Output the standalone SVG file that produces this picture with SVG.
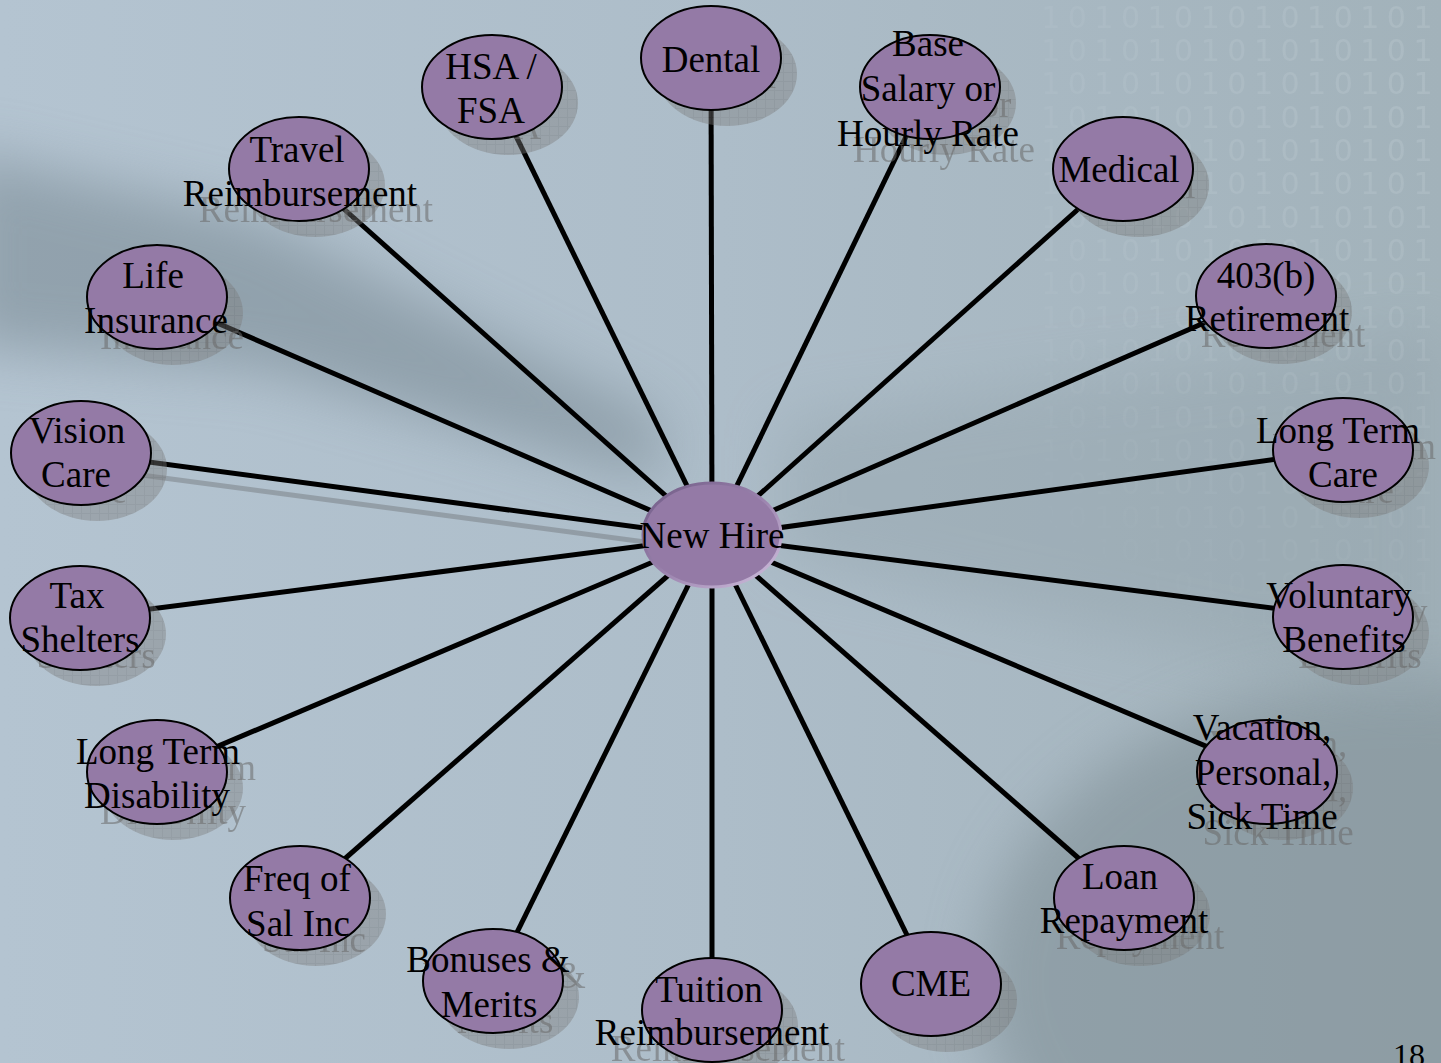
<svg xmlns="http://www.w3.org/2000/svg" xmlns:xlink="http://www.w3.org/1999/xlink" width="1441" height="1063" viewBox="0 0 1441 1063">
<defs>
<style>
.lbl{font-family:"Liberation Serif","Times New Roman",serif;font-size:37px;text-anchor:middle}
.lab{fill:#000}
.stx{fill:#6a6a6a;opacity:.55}
.shd{fill:url(#grid);opacity:.42}
.node{fill:#947aa6;stroke:#000;stroke-width:2}
.edge{stroke:#000;stroke-width:5;fill:none}
.bin{font-family:"DejaVu Sans",sans-serif;font-size:30px;letter-spacing:7.5px;fill:#e8f0f4;text-anchor:end}
</style>
<pattern id="grid" width="9" height="9" patternUnits="userSpaceOnUse">
<rect width="9" height="9" fill="#7c7c7c"/>
<path d="M0 0.5H9M0.5 0V9" stroke="#6c6c6c" stroke-width="1"/>
</pattern>
<linearGradient id="bg" x1="0" y1="0" x2="1" y2="0">
<stop offset="0" stop-color="#b4c4d1"/>
<stop offset="0.5" stop-color="#adbdc9"/>
<stop offset="1" stop-color="#a2b2ba"/>
</linearGradient>
<linearGradient id="rim" x1="0" y1="0" x2="1" y2="1">
<stop offset="0" stop-color="#6f5a84"/>
<stop offset="0.5" stop-color="#9a82ad"/>
<stop offset="1" stop-color="#d2c2e0"/>
</linearGradient>
<filter id="blur" x="-50%" y="-50%" width="200%" height="200%"><feGaussianBlur stdDeviation="28"/></filter>
<radialGradient id="binfade" cx="1441" cy="100" r="600" gradientUnits="userSpaceOnUse">
<stop offset="0" stop-color="#fff" stop-opacity="1"/>
<stop offset="0.5" stop-color="#fff" stop-opacity="0.6"/>
<stop offset="1" stop-color="#fff" stop-opacity="0"/>
</radialGradient>
<mask id="binmask"><rect x="0" y="0" width="1441" height="1063" fill="url(#binfade)"/></mask>
</defs>

<g id="background">
<rect x="0" y="0" width="1441" height="1063" fill="url(#bg)"/>
<polygon points="-40,150 260,220 660,420 660,480 260,370 -40,345" fill="#7b8c96" opacity="0.6" filter="url(#blur)"/>
<ellipse cx="1400" cy="980" rx="420" ry="300" fill="#7d8c93" opacity="0.55" filter="url(#blur)"/>
<polygon points="780,420 1441,330 1441,700 780,560" fill="#8e9ea6" opacity="0.35" filter="url(#blur)"/>
<g mask="url(#binmask)" opacity="0.14">
<text class="bin" x="1440" y="28">101010101010101</text>
<text class="bin" x="1440" y="61">101010101010101</text>
<text class="bin" x="1440" y="94">101010101010101</text>
<text class="bin" x="1440" y="128">101010101010101</text>
<text class="bin" x="1440" y="161">101010101010101</text>
<text class="bin" x="1440" y="194">101010101010101</text>
<text class="bin" x="1440" y="228">101010101010101</text>
<text class="bin" x="1440" y="261">101010101010101</text>
<text class="bin" x="1440" y="294">101010101010101</text>
<text class="bin" x="1440" y="328">101010101010101</text>
<text class="bin" x="1440" y="361">101010101010101</text>
<text class="bin" x="1440" y="394">101010101010101</text>
<text class="bin" x="1440" y="428">101010101010101</text>
<text class="bin" x="1440" y="461">101010101010101</text>
<text class="bin" x="1440" y="494">101010101010101</text>
<text class="bin" x="1440" y="528">101010101010101</text>
<text class="bin" x="1440" y="561">101010101010101</text>
<text class="bin" x="1440" y="594">101010101010101</text>
<text class="bin" x="1440" y="628">101010101010101</text>
<text class="bin" x="1440" y="661">101010101010101</text>
</g>
</g>

<g id="connectors">
<line x1="96" y1="469" x2="728" y2="553" stroke="#70757a" stroke-width="5" opacity="0.45"/>
<line class="edge" x1="712" y1="537" x2="711" y2="58"/>
<line class="edge" x1="712" y1="537" x2="930" y2="87"/>
<line class="edge" x1="712" y1="537" x2="1123" y2="169"/>
<line class="edge" x1="712" y1="537" x2="1266" y2="296"/>
<line class="edge" x1="712" y1="537" x2="1343" y2="450"/>
<line class="edge" x1="712" y1="537" x2="1343" y2="617"/>
<line class="edge" x1="712" y1="537" x2="1267" y2="772"/>
<line class="edge" x1="712" y1="537" x2="1124" y2="898"/>
<line class="edge" x1="712" y1="537" x2="931" y2="984"/>
<line class="edge" x1="712" y1="537" x2="712" y2="1010"/>
<line class="edge" x1="712" y1="537" x2="493" y2="981"/>
<line class="edge" x1="712" y1="537" x2="300" y2="898"/>
<line class="edge" x1="712" y1="537" x2="157" y2="772"/>
<line class="edge" x1="712" y1="537" x2="80" y2="618"/>
<line class="edge" x1="712" y1="537" x2="81" y2="453"/>
<line class="edge" x1="712" y1="537" x2="157" y2="297"/>
<line class="edge" x1="712" y1="537" x2="299" y2="169"/>
<line class="edge" x1="712" y1="537" x2="492" y2="87"/>
</g>

<g id="n-dental">
<ellipse class="shd" cx="727" cy="74" rx="70" ry="52"/>
<use xlink:href="#t-dental" href="#t-dental" class="stx" transform="translate(16,16)"/>
<ellipse class="node" cx="711" cy="58" rx="70" ry="52"/>
<g class="lab"><text id="t-dental" class="lbl" x="711" y="72">Dental</text></g>
</g>

<g id="n-base">
<ellipse class="shd" cx="946" cy="103" rx="70" ry="52"/>
<use xlink:href="#t-base" href="#t-base" class="stx" transform="translate(16,16)"/>
<ellipse class="node" cx="930" cy="87" rx="70" ry="52"/>
<g class="lab"><text id="t-base" class="lbl" x="928" y="56">Base<tspan x="928" y="101">Salary or</tspan><tspan x="928" y="146">Hourly Rate</tspan></text></g>
</g>

<g id="n-medical">
<ellipse class="shd" cx="1139" cy="185" rx="70" ry="52"/>
<use xlink:href="#t-medical" href="#t-medical" class="stx" transform="translate(16,16)"/>
<ellipse class="node" cx="1123" cy="169" rx="70" ry="52"/>
<g class="lab"><text id="t-medical" class="lbl" x="1119" y="182">Medical</text></g>
</g>

<g id="n-retirement">
<ellipse class="shd" cx="1282" cy="312" rx="70" ry="52"/>
<use xlink:href="#t-retirement" href="#t-retirement" class="stx" transform="translate(16,16)"/>
<ellipse class="node" cx="1266" cy="296" rx="70" ry="52"/>
<g class="lab"><text id="t-retirement" class="lbl" x="1266" y="288">403(b)<tspan x="1267" y="331">Retirement</tspan></text></g>
</g>

<g id="n-ltc">
<ellipse class="shd" cx="1359" cy="466" rx="70" ry="52"/>
<use xlink:href="#t-ltc" href="#t-ltc" class="stx" transform="translate(16,16)"/>
<ellipse class="node" cx="1343" cy="450" rx="70" ry="52"/>
<g class="lab"><text id="t-ltc" class="lbl" x="1338" y="443">Long Term<tspan x="1343" y="487">Care</tspan></text></g>
</g>

<g id="n-voluntary">
<ellipse class="shd" cx="1359" cy="633" rx="70" ry="52"/>
<use xlink:href="#t-voluntary" href="#t-voluntary" class="stx" transform="translate(16,16)"/>
<ellipse class="node" cx="1343" cy="617" rx="70" ry="52"/>
<g class="lab"><text id="t-voluntary" class="lbl" x="1339" y="608">Voluntary<tspan x="1344" y="652">Benefits</tspan></text></g>
</g>

<g id="n-vacation">
<ellipse class="shd" cx="1283" cy="788" rx="70" ry="52"/>
<use xlink:href="#t-vacation" href="#t-vacation" class="stx" transform="translate(16,16)"/>
<ellipse class="node" cx="1267" cy="772" rx="70" ry="52"/>
<g class="lab"><text id="t-vacation" class="lbl" x="1262" y="740">Vacation,<tspan x="1263" y="785">Personal,</tspan><tspan x="1262" y="829">Sick Time</tspan></text></g>
</g>

<g id="n-loan">
<ellipse class="shd" cx="1140" cy="914" rx="70" ry="52"/>
<use xlink:href="#t-loan" href="#t-loan" class="stx" transform="translate(16,16)"/>
<ellipse class="node" cx="1124" cy="898" rx="70" ry="52"/>
<g class="lab"><text id="t-loan" class="lbl" x="1120" y="889">Loan<tspan x="1124" y="933">Repayment</tspan></text></g>
</g>

<g id="n-cme">
<ellipse class="shd" cx="947" cy="1000" rx="70" ry="52"/>
<use xlink:href="#t-cme" href="#t-cme" class="stx" transform="translate(16,16)"/>
<ellipse class="node" cx="931" cy="984" rx="70" ry="52"/>
<g class="lab"><text id="t-cme" class="lbl" x="931" y="996">CME</text></g>
</g>

<g id="n-tuition">
<ellipse class="shd" cx="728" cy="1026" rx="70" ry="52"/>
<use xlink:href="#t-tuition" href="#t-tuition" class="stx" transform="translate(16,16)"/>
<ellipse class="node" cx="712" cy="1010" rx="70" ry="52"/>
<g class="lab"><text id="t-tuition" class="lbl" x="709" y="1002">Tuition<tspan x="712" y="1045">Reimbursement</tspan></text></g>
</g>

<g id="n-bonuses">
<ellipse class="shd" cx="509" cy="997" rx="70" ry="52"/>
<use xlink:href="#t-bonuses" href="#t-bonuses" class="stx" transform="translate(16,16)"/>
<ellipse class="node" cx="493" cy="981" rx="70" ry="52"/>
<g class="lab"><text id="t-bonuses" class="lbl" x="488" y="972">Bonuses &amp;<tspan x="489" y="1017">Merits</tspan></text></g>
</g>

<g id="n-freq">
<ellipse class="shd" cx="316" cy="914" rx="70" ry="52"/>
<use xlink:href="#t-freq" href="#t-freq" class="stx" transform="translate(16,16)"/>
<ellipse class="node" cx="300" cy="898" rx="70" ry="52"/>
<g class="lab"><text id="t-freq" class="lbl" x="297" y="891">Freq of<tspan x="298" y="936">Sal Inc</tspan></text></g>
</g>

<g id="n-ltd">
<ellipse class="shd" cx="173" cy="788" rx="70" ry="52"/>
<use xlink:href="#t-ltd" href="#t-ltd" class="stx" transform="translate(16,16)"/>
<ellipse class="node" cx="157" cy="772" rx="70" ry="52"/>
<g class="lab"><text id="t-ltd" class="lbl" x="158" y="764">Long Term<tspan x="157" y="808">Disability</tspan></text></g>
</g>

<g id="n-tax">
<ellipse class="shd" cx="96" cy="634" rx="70" ry="52"/>
<use xlink:href="#t-tax" href="#t-tax" class="stx" transform="translate(16,16)"/>
<ellipse class="node" cx="80" cy="618" rx="70" ry="52"/>
<g class="lab"><text id="t-tax" class="lbl" x="77" y="608">Tax<tspan x="80" y="652">Shelters</tspan></text></g>
</g>

<g id="n-vision">
<ellipse class="shd" cx="97" cy="469" rx="70" ry="52"/>
<use xlink:href="#t-vision" href="#t-vision" class="stx" transform="translate(16,16)"/>
<ellipse class="node" cx="81" cy="453" rx="70" ry="52"/>
<g class="lab"><text id="t-vision" class="lbl" x="77" y="443">Vision<tspan x="76" y="487">Care</tspan></text></g>
</g>

<g id="n-life">
<ellipse class="shd" cx="173" cy="313" rx="70" ry="52"/>
<use xlink:href="#t-life" href="#t-life" class="stx" transform="translate(16,16)"/>
<ellipse class="node" cx="157" cy="297" rx="70" ry="52"/>
<g class="lab"><text id="t-life" class="lbl" x="153" y="288">Life<tspan x="156" y="333">Insurance</tspan></text></g>
</g>

<g id="n-travel">
<ellipse class="shd" cx="315" cy="185" rx="70" ry="52"/>
<use xlink:href="#t-travel" href="#t-travel" class="stx" transform="translate(16,16)"/>
<ellipse class="node" cx="299" cy="169" rx="70" ry="52"/>
<g class="lab"><text id="t-travel" class="lbl" x="297" y="162">Travel<tspan x="300" y="206">Reimbursement</tspan></text></g>
</g>

<g id="n-hsa">
<ellipse class="shd" cx="508" cy="103" rx="70" ry="52"/>
<use xlink:href="#t-hsa" href="#t-hsa" class="stx" transform="translate(16,16)"/>
<ellipse class="node" cx="492" cy="87" rx="70" ry="52"/>
<g class="lab"><text id="t-hsa" class="lbl" x="491" y="79">HSA /<tspan x="491" y="123">FSA</tspan></text></g>
</g>

<g id="n-newhire">
<ellipse cx="712" cy="535" rx="69" ry="52" fill="#947aa6" stroke="url(#rim)" stroke-width="3"/>
<g class="lab"><text class="lbl" x="712" y="548">New Hire</text></g>
</g>

<text id="page-number" x="1409" y="1066" font-family="'Liberation Serif','Times New Roman',serif" font-size="32" text-anchor="middle" fill="#000">18</text>
</svg>
